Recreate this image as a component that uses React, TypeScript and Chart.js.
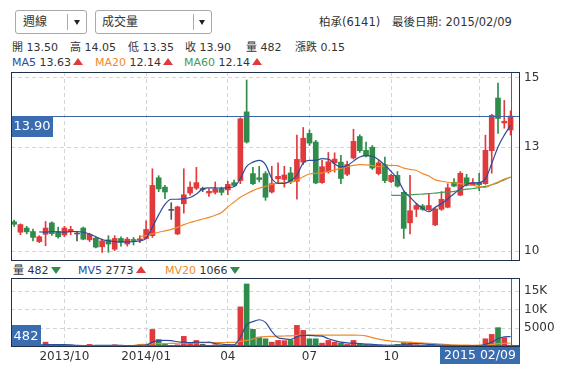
import React, { useEffect, useRef } from 'react';
import { Chart, registerables } from 'chart.js';
Chart.register(...registerables);

const FONT = '"DejaVu Sans", "Noto Sans CJK TC", sans-serif';

// weekly OHLC, index 0 = week of 2013/08/05, last = 2015/02/09
const opens = [10.85,10.55,10.67,10.57,10.28,10.49,10.82,10.57,10.47,10.56,10.50,10.67,10.33,10.38,10.13,10.33,10.06,10.37,10.21,10.34,10.33,10.37,10.45,12.12,11.85,11.18,10.50,11.37,11.68,11.82,11.78,11.68,11.70,11.80,11.77,11.98,12.04,14.02,12.24,12.12,12.24,11.71,12.09,12.07,12.26,12.02,12.57,13.40,13.15,11.98,12.29,12.55,12.57,12.22,12.69,13.31,12.91,13.00,12.24,12.50,12.01,12.19,11.70,10.82,11.21,11.31,11.20,10.76,11.21,11.27,11.99,11.62,12.12,11.92,11.98,11.95,12.90,14.42,13.70,13.50];
const highs = [10.90,10.79,10.72,10.64,10.45,10.86,10.85,10.70,10.72,10.72,10.57,10.70,10.52,10.42,10.35,10.45,10.45,10.42,10.40,10.40,10.45,10.88,12.38,12.18,11.90,11.40,11.30,12.38,12.00,12.42,11.85,11.80,12.00,11.85,12.02,12.05,13.85,14.94,12.42,12.45,12.30,12.45,12.55,12.45,12.42,13.35,13.57,13.50,13.20,12.62,12.85,12.84,12.77,12.60,13.52,13.36,13.15,13.05,12.62,12.72,12.22,12.30,11.72,12.19,11.38,11.35,11.66,11.25,11.72,11.95,12.10,12.30,12.22,12.10,12.25,13.35,13.95,14.85,14.35,14.05];
const lows = [10.72,10.48,10.50,10.30,10.25,10.16,10.46,10.38,10.42,10.48,10.30,10.33,10.28,10.10,9.97,9.97,10.02,10.15,10.15,10.18,10.25,10.35,10.40,11.72,11.52,10.92,10.48,11.10,11.62,11.78,11.72,11.58,11.65,11.62,11.63,11.88,11.95,13.12,11.92,12.00,11.47,11.68,11.95,11.85,11.95,11.50,12.50,13.05,11.95,11.96,12.25,12.28,11.95,12.18,12.66,12.85,12.72,12.36,12.20,11.98,11.98,11.85,10.37,10.50,11.00,11.18,11.18,10.74,11.18,11.25,11.86,11.60,11.88,11.90,11.75,11.93,12.25,13.40,13.55,13.35];
const closes = [10.78,10.77,10.56,10.40,10.42,10.67,10.51,10.42,10.67,10.63,10.50,10.35,10.49,10.12,10.30,10.21,10.37,10.26,10.35,10.31,10.35,10.63,11.90,11.80,11.71,11.18,11.28,11.63,11.85,11.98,11.78,11.73,11.80,11.70,11.93,11.90,13.82,13.15,11.95,12.07,11.56,11.95,12.16,12.20,12.01,12.65,13.26,13.12,11.97,12.44,12.58,12.66,12.10,12.50,13.17,12.90,12.75,12.40,12.55,12.04,12.19,11.88,10.66,11.17,11.32,11.21,11.32,11.22,11.50,11.83,11.88,12.25,11.90,11.98,11.92,12.91,13.92,13.83,13.75,13.90];
const volumes = [300,400,250,300,350,1300,400,300,350,250,200,300,700,400,300,250,600,300,250,200,650,600,4700,2000,900,300,600,2850,1000,1750,700,400,600,500,700,600,10760,16900,4730,2650,2200,1300,1760,1700,1760,5800,4450,2200,2200,1030,1760,1300,1030,700,1760,860,700,500,400,350,500,700,1300,1300,600,400,500,400,300,350,300,400,300,250,350,2200,3380,5190,2480,482];

const ma5 = [null,null,null,null,10.56,10.55,10.57,10.56,10.55,10.57,10.57,10.55,10.50,10.42,10.34,10.30,10.28,10.27,10.27,10.28,10.30,10.38,10.70,11.05,11.35,11.50,11.50,11.52,11.55,11.65,11.80,11.83,11.83,11.82,11.84,11.86,12.10,12.45,12.57,12.62,12.50,12.10,11.96,11.96,12.04,12.20,12.55,12.62,12.62,12.67,12.66,12.52,12.43,12.47,12.60,12.72,12.76,12.74,12.64,12.48,12.30,12.09,11.75,11.56,11.38,11.24,11.14,11.27,11.37,11.51,11.66,11.80,11.93,11.97,11.98,12.09,12.53,13.01,13.35,13.63];
const ma20 = [null,null,null,null,null,null,null,null,null,null,null,null,null,null,null,null,null,null,null,null,10.42,10.45,10.50,10.55,10.59,10.63,10.69,10.77,10.83,10.88,10.93,10.98,11.04,11.12,11.28,11.42,11.56,11.66,11.75,11.82,11.87,11.93,11.96,11.98,11.99,12.05,12.15,12.23,12.25,12.26,12.30,12.35,12.39,12.44,12.48,12.50,12.49,12.47,12.44,12.46,12.48,12.47,12.40,12.36,12.33,12.24,12.17,12.06,12.02,11.99,11.97,11.95,11.92,11.90,11.87,11.84,11.92,12.00,12.08,12.14];
const ma60 = [null,null,null,null,null,null,null,null,null,null,null,null,null,null,null,null,null,null,null,null,null,null,null,null,null,null,null,null,null,null,null,null,null,null,null,null,null,null,null,null,null,null,null,null,null,null,null,null,null,null,null,null,null,null,null,null,null,null,null,null,11.61,11.61,11.62,11.63,11.64,11.65,11.66,11.68,11.70,11.71,11.73,11.76,11.79,11.81,11.84,11.87,11.92,11.98,12.06,12.14];
const mv5 = [null,null,null,null,500,620,640,650,640,580,420,380,400,420,450,430,420,420,400,380,420,480,1300,1700,1750,1700,1400,1300,1200,1300,1250,1300,900,800,600,600,2600,5900,6800,7300,6600,4200,2500,2200,2000,2800,3100,3100,3000,2900,2200,1700,1300,1100,1000,900,800,700,600,500,450,480,650,850,880,820,700,600,500,420,380,350,330,330,350,700,1300,2200,2700,2773];
const mv20 = [null,null,null,null,null,null,null,null,null,null,null,null,null,null,null,null,null,null,null,450,650,700,850,880,920,950,1000,1050,1100,1120,1150,1170,1190,1200,1220,1250,1500,1800,2100,2600,2800,2850,2900,2950,3000,3100,3150,3180,3200,3200,3200,3200,3180,3170,3160,3150,3000,2500,2100,1800,1600,1450,1300,1220,1150,1080,1000,900,800,650,550,500,480,470,480,550,700,900,1000,1066];

const monthTicks = [8, 21, 34, 47, 60, 74];
const monthLabels = ['2013/10', '2014/01', '04', '07', '10', ''];
const priceTicks = [10, 13, 15];
const volTicks = [5000, 10000, 15000];
const lastDateLabel = '2015 02/09';

const RED = '#e03a3c';
const GREEN = '#2f8c4b';
const DOJI = '#555555';
const MA5C = '#2b4b9b';
const MA20C = '#f08a2c';
const MA60C = '#479a57';
const CROSS = '#3d64a6';
const BOX = '#3a6cb0';
const FRAME = '#1e304a';
const GRID = '#d4d4d4';

const candleColor = (i: number) =>
  closes[i] > opens[i] ? RED : closes[i] < opens[i] ? GREEN : DOJI;

const toPoints = (arr: (number | null)[]) =>
  arr.map((v, i) => (v == null ? null : { x: i, y: v })).filter((p) => p !== null);

const last = closes.length - 1;

const noPad = (scale: any) => {
  scale.paddingTop = 0;
  scale.paddingBottom = 0;
  scale.paddingLeft = 0;
  scale.paddingRight = 0;
};

const xScaleBase = (showLabels: boolean) => ({
  type: 'linear' as const,
  min: -0.5,
  max: closes.length + 0.5,
  offset: false,
  afterBuildTicks: (scale: any) => {
    scale.ticks = monthTicks.map((v) => ({ value: v }));
  },
  afterFit: (scale: any) => {
    scale.height = showLabels ? 33 : 0;
    noPad(scale);
  },
  ticks: {
    display: showLabels,
    autoSkip: false,
    maxRotation: 0,
    padding: 3,
    color: '#333',
    font: { family: FONT, size: 12 },
    callback: (v: any) => {
      const k = monthTicks.indexOf(v);
      return k >= 0 ? monthLabels[k] : '';
    },
  },
  grid: { color: GRID, drawTicks: false, offset: false },
  border: { display: false, dash: [4, 3] },
});

const yScaleBase = (min: number, max: number, tickVals: number[], fmt: (v: number) => string) => ({
  position: 'right' as const,
  min,
  max,
  afterBuildTicks: (scale: any) => {
    scale.ticks = tickVals.map((v) => ({ value: v }));
  },
  afterFit: (scale: any) => {
    scale.width = 57;
    noPad(scale);
  },
  ticks: { padding: 4, color: '#333', font: { family: FONT, size: 12 }, callback: (v: any) => fmt(v) },
  grid: { color: GRID, drawTicks: false },
  border: { display: false, dash: [4, 3] },
});

const mainOverlay = {
  id: 'mainOverlay',
  afterDatasetsDraw(chart: any) {
    const { ctx, chartArea: ca, scales } = chart;
    const y = Math.round(scales.y.getPixelForValue(closes[last]));
    const x = Math.round(scales.x.getPixelForValue(last));
    ctx.save();
    ctx.strokeStyle = CROSS;
    ctx.lineWidth = 1;
    ctx.beginPath();
    ctx.moveTo(ca.left, y + 0.5);
    ctx.lineTo(ca.right, y + 0.5);
    ctx.moveTo(x + 0.5, ca.top);
    ctx.lineTo(x + 0.5, ca.bottom);
    ctx.stroke();
    ctx.fillStyle = BOX;
    ctx.fillRect(ca.left, y, 42, 21);
    ctx.fillStyle = '#fff';
    ctx.font = `13px ${FONT}`;
    ctx.textAlign = 'center';
    ctx.textBaseline = 'middle';
    ctx.fillText(closes[last].toFixed(2), ca.left + 21, y + 11);
    ctx.strokeStyle = FRAME;
    ctx.strokeRect(ca.left + 0.5, ca.top + 0.5, ca.right - ca.left - 1, ca.bottom - ca.top - 1);
    ctx.restore();
  },
};

const volOverlay = {
  id: 'volOverlay',
  afterDatasetsDraw(chart: any) {
    const { ctx, chartArea: ca, scales } = chart;
    const y = Math.round(scales.y.getPixelForValue(volumes[last]));
    const x = Math.round(scales.x.getPixelForValue(last));
    ctx.save();
    ctx.strokeStyle = CROSS;
    ctx.lineWidth = 1;
    ctx.beginPath();
    ctx.moveTo(ca.left, y + 0.5);
    ctx.lineTo(ca.right, y + 0.5);
    ctx.moveTo(x + 0.5, ca.top);
    ctx.lineTo(x + 0.5, ca.bottom);
    ctx.stroke();
    const bh = 22;
    const by = Math.min(y, ca.bottom - bh);
    ctx.fillStyle = BOX;
    ctx.fillRect(ca.left, by, 30, bh);
    ctx.fillStyle = '#fff';
    ctx.font = `13px ${FONT}`;
    ctx.textAlign = 'center';
    ctx.textBaseline = 'middle';
    ctx.fillText(String(volumes[last]), ca.left + 15, by + bh / 2 + 1);
    ctx.strokeStyle = FRAME;
    ctx.strokeRect(ca.left + 0.5, ca.top + 0.5, ca.right - ca.left - 1, ca.bottom - ca.top - 1);
    ctx.font = `12.5px ${FONT}`;
    const w = Math.ceil(ctx.measureText(lastDateLabel).width) + 8;
    ctx.fillStyle = BOX;
    ctx.fillRect(ca.right - w, ca.bottom, w, 17);
    ctx.fillStyle = '#fff';
    ctx.fillText(lastDateLabel, ca.right - w / 2, ca.bottom + 9);
    ctx.restore();
  },
};

const lineDs = (arr: (number | null)[], color: string) => ({
  type: 'line' as const,
  data: toPoints(arr) as any,
  borderColor: color,
  borderWidth: 1.2,
  pointRadius: 0,
  cubicInterpolationMode: 'monotone' as const,
  order: 0,
});

export default function App() {
  const mainRef = useRef<HTMLCanvasElement>(null);
  const volRef = useRef<HTMLCanvasElement>(null);

  useEffect(() => {
    Chart.defaults.font.family = FONT;
    Chart.defaults.font.size = 12;
    Chart.defaults.color = '#333';

    const main = new Chart(mainRef.current as HTMLCanvasElement, {
      type: 'bar',
      data: {
        datasets: [
          lineDs(ma5, MA5C),
          lineDs(ma20, MA20C),
          lineDs(ma60, MA60C),
          {
            type: 'bar',
            data: lows.map((l, i) => ({ x: i, y: [l, highs[i]] })) as any,
            backgroundColor: (c: any) => candleColor(c.dataIndex),
            barThickness: 1,
            grouped: false,
            order: 2,
          },
          {
            type: 'bar',
            data: opens.map((o, i) => ({ x: i, y: [o, closes[i]] })) as any,
            backgroundColor: (c: any) => candleColor(c.dataIndex),
            barThickness: 5,
            minBarLength: 1,
            grouped: false,
            order: 1,
          },
        ] as any,
      },
      options: {
        animation: false,
        responsive: false,
        devicePixelRatio: 1,
        layout: { padding: { left: 11, top: 7, right: 0, bottom: 9 } },
        plugins: { legend: { display: false }, tooltip: { enabled: false } },
        scales: {
          x: xScaleBase(false) as any,
          y: yScaleBase(9.72, 15.17, priceTicks, (v) => String(v)) as any,
        },
      },
      plugins: [mainOverlay],
    });

    const vol = new Chart(volRef.current as HTMLCanvasElement, {
      type: 'bar',
      data: {
        datasets: [
          lineDs(mv5, MA5C),
          lineDs(mv20, MA20C),
          {
            type: 'bar',
            data: volumes.map((v, i) => ({ x: i, y: v })) as any,
            backgroundColor: (c: any) => candleColor(c.dataIndex),
            barThickness: 5,
            grouped: false,
            order: 1,
          },
        ] as any,
      },
      options: {
        animation: false,
        responsive: false,
        devicePixelRatio: 1,
        layout: { padding: { left: 11, top: 3, right: 0, bottom: 0 } },
        plugins: { legend: { display: false }, tooltip: { enabled: false } },
        scales: {
          x: xScaleBase(true) as any,
          y: yScaleBase(0, 18500, volTicks, (v) => (v >= 10000 ? `${v / 1000}K` : String(v))) as any,
        },
      },
      plugins: [volOverlay],
    });

    return () => {
      main.destroy();
      vol.destroy();
    };
  }, []);

  const abs = (left: number, top: number, extra: any = {}) => ({
    position: 'absolute' as const,
    left,
    top,
    whiteSpace: 'nowrap' as const,
    lineHeight: '16px',
    ...extra,
  });
  const tri = (color: string, dir: 'up' | 'down') => (
    <span
      style={{
        display: 'inline-block',
        width: 0,
        height: 0,
        marginLeft: 2,
        verticalAlign: dir === 'up' ? 1 : 0,
        borderLeft: '5px solid transparent',
        borderRight: '5px solid transparent',
        [dir === 'up' ? 'borderBottom' : 'borderTop']: `7px solid ${color}`,
      }}
    />
  );
  const arrow = (left: number, top: number) => (
    <div style={abs(left, top, { width: 0, height: 0, lineHeight: 0, borderLeft: '3px solid transparent', borderRight: '3px solid transparent', borderTop: '5px solid #222' })} />
  );
  const box = { border: '1px solid #a9a9a9', borderRadius: 3, boxSizing: 'border-box' as const, height: 24 };
  const small = { fontSize: 11 };

  return (
    <div style={{ position: 'absolute', left: 0, top: 0, width: 577, height: 380, background: '#fff', fontFamily: FONT, fontSize: 12, color: '#333', overflow: 'hidden' }}>
      <div style={abs(15, 10, { ...box, width: 72 })} />
      <div style={abs(23, 14)}>週線</div>
      <div style={abs(67, 14, { width: 0, height: 16, borderLeft: '1px solid #a9a9a9' })} />
      {arrow(74, 20)}
      <div style={abs(95, 10, { ...box, width: 117 })} />
      <div style={abs(102, 14)}>成交量</div>
      <div style={abs(193, 14, { width: 0, height: 16, borderLeft: '1px solid #a9a9a9' })} />
      {arrow(199, 20)}
      <div style={abs(319, 14, { fontSize: 11.5 })}>柏承(6141)</div>
      <div style={abs(392, 14, { fontSize: 11.5 })}>最後日期: 2015/02/09</div>

      <div style={abs(12, 40, small)}>開 13.50</div>
      <div style={abs(70, 40, small)}>高 14.05</div>
      <div style={abs(128, 40, small)}>低 13.35</div>
      <div style={abs(185, 40, small)}>收 13.90</div>
      <div style={abs(246, 40, small)}>量 482</div>
      <div style={abs(295, 40, small)}>漲跌 0.15</div>

      <div style={abs(12, 55, small)}><span style={{ color: MA5C }}>MA5</span> 13.63{tri(RED, 'up')}</div>
      <div style={abs(95, 55, small)}><span style={{ color: MA20C }}>MA20</span> 12.14{tri(RED, 'up')}</div>
      <div style={abs(184, 55, small)}><span style={{ color: MA60C }}>MA60</span> 12.14{tri(RED, 'up')}</div>

      <div style={abs(13, 263, small)}>量 482{tri(GREEN, 'down')}</div>
      <div style={abs(78, 263, small)}><span style={{ color: MA5C }}>MV5</span> 2773{tri(RED, 'up')}</div>
      <div style={abs(165, 263, small)}><span style={{ color: MA20C }}>MV20</span> 1066{tri(GREEN, 'down')}</div>

      <canvas ref={mainRef} width={577} height={205} style={{ position: 'absolute', left: 0, top: 65, display: 'block' }} />
      <canvas ref={volRef} width={577} height={105} style={{ position: 'absolute', left: 0, top: 275, display: 'block' }} />
    </div>
  );
}
